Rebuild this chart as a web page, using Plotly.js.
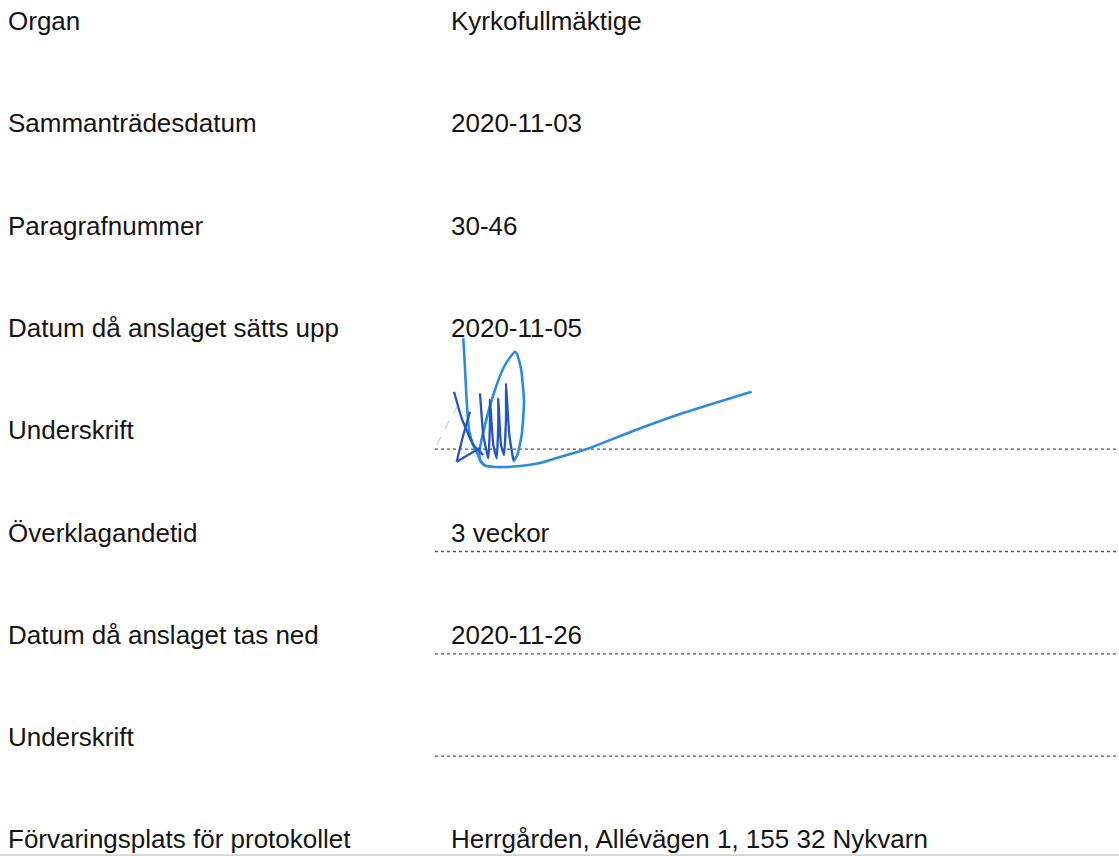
<!DOCTYPE html>
<html>
<head>
<meta charset="utf-8">
<script src="https://cdn.plot.ly/plotly-3.0.1.min.js"></script>
<style>
  html, body { margin: 0; padding: 0; background: #ffffff; }
  #chart { width: 1119px; height: 856px; }
</style>
</head>
<body>
<div id="chart"></div>
<script>
// ---- content ----
const fieldLabels = [
  "Organ",
  "Sammanträdesdatum",
  "Paragrafnummer",
  "Datum då anslaget sätts upp",
  "Underskrift",
  "Överklagandetid",
  "Datum då anslaget tas ned",
  "Underskrift",
  "Förvaringsplats för protokollet"
];
const fieldValues = [
  "Kyrkofullmäktige",
  "2020-11-03",
  "30-46",
  "2020-11-05",
  "",
  "3 veckor",
  "2020-11-26",
  "",
  "Herrgården, Allévägen 1, 155 32 Nykvarn"
];
const underlinedRows = [4, 5, 6, 7];

// signature strokes (page pixel coordinates, null separates strokes)
const sigLightX = [
  463.3, 465, 466.7, 469.3, 473.3, 478, 481, 485, 495, 506.7, 520, 540, 560, 587, 633, 683, 751.7, null,
  513.3, 517.3, 521.7, 524, 521, 517, 515, 511, 503.3, 493.3, 485, 480, 480, 485
];
const sigLightY = [
  338.3, 368.3, 401.7, 431.7, 445, 455, 462, 465.5, 467, 467, 466, 463, 457, 449, 431, 413, 391.7, null,
  461.7, 455, 435, 401.7, 368.3, 354, 351.7, 356, 368.3, 395, 425, 448.3, 460, 465.5
];
const sigDarkX = [
  454, 461.7, 473.3, 483.3, null,
  456.7, 463.3, 470, null,
  456.7, 468, 480, null,
  480, 483.3, 488.3, 490, 490, 493.3, 496.7, 498.3, 498.3, 501, 504, 506, 506, 509.3, 513.3
];
const sigDarkY = [
  391.7, 418.3, 445, 455, null,
  461.7, 435, 411.7, null,
  461.7, 455, 448, null,
  393.3, 435, 458.3, 421.7, 400, 445, 458.3, 421.7, 398.3, 445, 455, 418.3, 383.3, 435, 460
];
const sigPencilX = [436.7, 448, 460];
const sigPencilY = [445, 423, 401.7];

// ---- layout helpers ----
const W = 1119, H = 856;
const rowTop = 23.5, rowStep = 102.3;    // pixel centre of first row, row spacing
const underlineOffset = 16.5;            // px below row centre
const yMin = -rowTop / rowStep, yMax = (H - rowTop) / rowStep;
const rowIdx = fieldLabels.map((_, i) => i);
const pxY = p => (p === null ? null : (p - rowTop) / rowStep);

const font = { family: "Arial, 'Liberation Sans', sans-serif", size: 26, color: "#141414" };

const traces = [
  {
    type: "scatter", mode: "text", x: rowIdx.map(() => 8), y: rowIdx,
    text: fieldLabels, textposition: "middle right", textfont: font,
    hoverinfo: "skip", showlegend: false, cliponaxis: false
  },
  {
    type: "scatter", mode: "text", x: rowIdx.map(() => 451), y: rowIdx,
    text: fieldValues, textposition: "middle right", textfont: font,
    hoverinfo: "skip", showlegend: false, cliponaxis: false
  },
  {
    type: "scatter", mode: "lines", x: sigPencilX, y: sigPencilY.map(pxY),
    line: { color: "#c8c8c8", width: 1.1, dash: "dash" },
    hoverinfo: "skip", showlegend: false
  },
  {
    type: "scatter", mode: "lines", x: sigLightX, y: sigLightY.map(pxY),
    line: { color: "#2b8be0", width: 2.6, shape: "spline", smoothing: 0.5 },
    connectgaps: false, hoverinfo: "skip", showlegend: false
  },
  {
    type: "scatter", mode: "lines", x: sigDarkX, y: sigDarkY.map(pxY),
    line: { color: "#2556bb", width: 2.3, shape: "spline", smoothing: 0.4 },
    connectgaps: false, hoverinfo: "skip", showlegend: false
  }
];

const shapes = underlinedRows.map(r => ({
  type: "line", xref: "x", yref: "y", layer: "below",
  x0: 435, x1: W, y0: r + underlineOffset / rowStep, y1: r + underlineOffset / rowStep,
  line: { color: "#5a5a5a", width: 1.3, dash: "dot" }
}));
shapes.push({
  type: "line", xref: "paper", yref: "paper", layer: "below",
  x0: 0, x1: 1, y0: 0.001, y1: 0.001,
  line: { color: "#d4d4d4", width: 2 }
});

const layout = {
  width: W, height: H,
  margin: { l: 0, r: 0, t: 0, b: 0 },
  paper_bgcolor: "#ffffff", plot_bgcolor: "#ffffff",
  xaxis: { range: [0, W], visible: false, fixedrange: true },
  yaxis: { range: [yMax, yMin], visible: false, fixedrange: true },
  shapes: shapes,
  showlegend: false
};

Plotly.newPlot("chart", traces, layout, { staticPlot: true, displayModeBar: false });
</script>
</body>
</html>
